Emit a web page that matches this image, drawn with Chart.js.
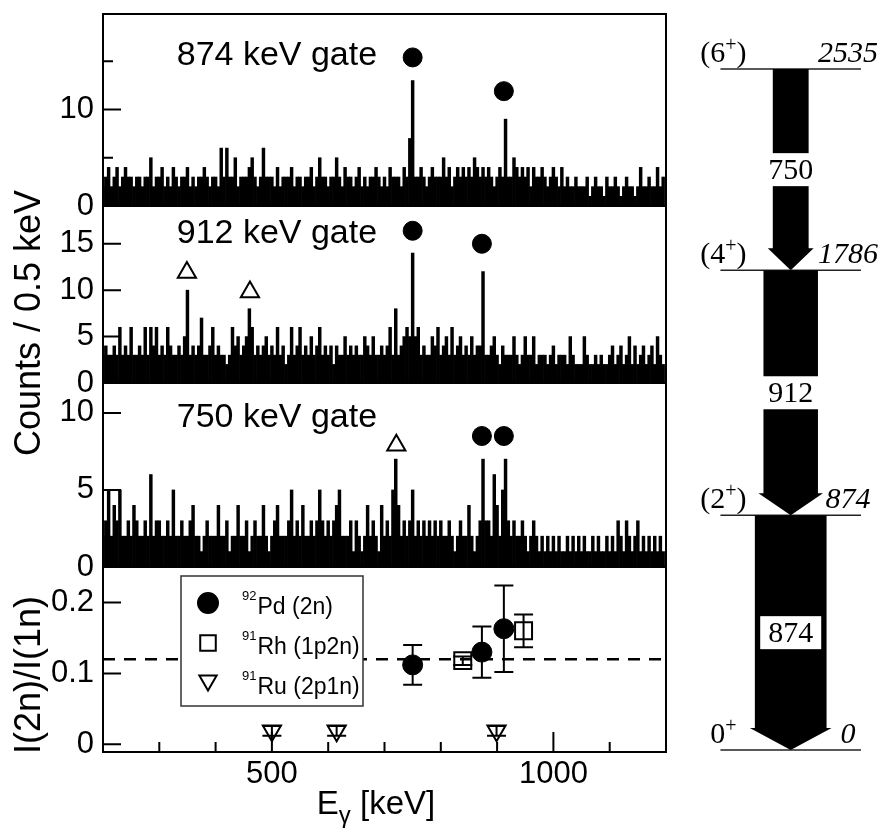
<!DOCTYPE html>
<html>
<head>
<meta charset="utf-8">
<title>92Pd gated spectra</title>
<script src="https://cdn.jsdelivr.net/npm/chart.js@4.4.1/dist/chart.umd.min.js"></script>
<style>
  body { margin: 0; background: #fff; font-family: "Liberation Sans", Arial, sans-serif; }
  #wrap { position: relative; width: 885px; height: 832px; overflow: hidden; }
  #spectra { position: absolute; left: 0; top: 0; }
  #scheme { position: absolute; left: 680px; top: 0; }
  .ytitle { position: absolute; transform: translate(-50%, -50%) rotate(-90deg); font-size: 36px; line-height: 1; white-space: nowrap; color: #000; }
  #xtitle { position: absolute; left: 376px; top: 786px; transform: translateX(-50%); font-size: 33px; line-height: 1; white-space: nowrap; }
  #xtitle sub { font-size: 24px; vertical-align: -9px; }
</style>
</head>
<body>
<div id="wrap">
  <canvas id="spectra" width="680" height="832"></canvas>
  <canvas id="scheme" width="205" height="832"></canvas>
  <div class="ytitle" style="left:28px;top:323px">Counts / 0.5 keV</div>
  <div class="ytitle" style="left:28px;top:675px">I(2n)/I(1n)</div>
  <div id="xtitle">E<sub>γ</sub> [keV]</div>
</div>
<script>
var binStart = 200;
var binWidth = 5;

var gate874 = [
  2,3,4,2,3,4,2,3,4,3,  3,2,3,3,2,3,3,5,2,3,  3,4,2,3,2,4,3,2,3,3,  4,2,3,2,3,3,4,3,2,3,
  3,2,6,3,6,3,3,5,2,3,  3,3,4,5,3,2,3,6,3,3,  3,2,4,2,3,3,3,4,2,3,  3,2,3,3,4,2,3,5,3,3,
  2,3,3,5,3,2,4,3,3,2,  3,4,2,3,2,3,3,4,3,2,  3,2,4,3,3,3,2,4,3,7,  13,3,3,4,3,2,3,4,3,3,
  3,5,3,4,2,3,4,3,4,3,  4,3,5,4,3,4,3,4,3,2,  3,4,3,9,3,3,5,4,3,4,  3,4,2,4,3,3,4,3,2,3,
  4,3,2,4,2,3,2,2,3,2,  2,2,3,1,2,3,2,2,1,3,  2,2,3,2,1,2,3,2,2,1,  2,4,2,2,3,2,2,4,2,3
];
var gate912 = [
  3,4,3,3,4,3,6,3,4,3,  6,3,3,4,3,6,3,6,4,6,  3,4,3,6,4,3,3,4,3,5,  10,3,4,3,4,7,3,3,4,6,
  3,4,3,3,2,3,6,4,5,3,  4,5,8,6,3,4,3,4,5,3,  4,3,6,3,4,2,3,6,3,4,  6,3,4,3,5,3,4,6,3,4,
  3,4,2,4,3,3,5,3,4,3,  4,3,3,5,4,3,5,3,3,4,  3,4,6,3,8,3,4,5,6,5,  14,5,6,3,4,3,3,5,4,6,
  3,4,5,3,6,3,4,5,3,4,  3,5,3,4,4,12,3,3,4,5, 3,2,4,3,3,3,5,3,2,3,  5,3,3,5,2,3,3,3,2,3,
  4,2,3,3,3,2,5,3,2,2,  2,5,3,2,2,3,2,3,2,2,  3,4,2,3,4,2,3,5,2,4,  2,3,4,2,3,4,2,5,3,2
];
var gate750 = [
  2,3,5,2,4,3,5,2,2,3,  2,4,3,2,2,3,2,6,2,3,  3,2,2,3,2,5,2,2,3,2,  2,3,4,2,2,1,2,3,2,2,
  2,4,2,2,3,1,2,2,4,2,  2,3,1,2,3,2,2,4,2,1,  2,3,4,2,2,2,3,5,2,3,  2,4,2,2,3,2,3,5,3,2,
  3,2,3,4,5,2,2,2,3,1,  3,2,1,2,4,2,3,2,1,4,  2,3,2,5,7,4,2,3,2,3,  5,2,3,2,3,2,3,2,3,2,
  3,2,2,3,2,1,2,3,2,2,  4,2,1,2,3,7,3,3,2,6,  4,2,5,7,3,2,3,2,2,3,  2,1,2,3,2,1,2,1,2,1,
  2,1,2,1,1,2,1,2,1,2,  1,2,1,1,2,1,2,1,1,2,  1,2,1,3,2,1,3,2,1,2,  3,1,2,1,2,1,2,1,2,1
];

// peak markers (keV, counts)
var pd874 = [{x: 750, y: 15.4}, {x: 912, y: 11.9}];
var pd912 = [{x: 750, y: 16.4}, {x: 873, y: 15.0}];
var other912 = [{x: 349, y: 11.9}, {x: 461, y: 9.8}];
var pd750 = [{x: 873, y: 8.5}, {x: 912, y: 8.5}];
var other750 = [{x: 721, y: 7.9}];

// I(2n)/I(1n) ratios
var pdE = [750, 873, 912];
var pdRatio = [0.112, 0.130, 0.163];
var pdErr = [0.028, 0.036, 0.061];
var rhE = [839, 947];
var rhRatio = [0.118, 0.160];
var rhErr = [0.006, 0.023];
var ruE = [500, 615, 899];
var ruRatio = [0.019, 0.019, 0.019];
var ruErr = [0.007, 0.007, 0.007];
var meanRatio = 0.12;

// level scheme
var levelE = [0, 874, 1786, 2535];
var levelSpin = ['0+', '(2+)', '(4+)', '(6+)'];
var gammaE = [750, 912, 874];
var gammaFrom = [2535, 1786, 874];
var gammaTo = [1786, 874, 0];
var gammaInt = [50, 76, 100];

// ticks
var xMajor = [500, 1000];
var xMinor = [300, 400, 600, 700, 800, 900, 1100];
var ticks874 = [0, 10];
var minor874 = [5, 15];
var ticks912 = [0, 5, 10, 15];
var ticks750 = [0, 5, 10];
var ticksRatio = [0, 0.1, 0.2];

var SANS = '"Liberation Sans", Arial, sans-serif';
var SERIF = '"Liberation Serif", "DejaVu Serif", serif';
Chart.defaults.font.family = SANS;
Chart.defaults.color = '#000';

function hist(counts, axis) {
  return {
    type: 'bar', yAxisID: axis, order: 10,
    data: counts.map(function (c, i) { return {x: binStart + i * binWidth, y: c}; }),
    backgroundColor: '#000', borderWidth: 0, grouped: false,
    barPercentage: 1, categoryPercentage: 1
  };
}

function marks(pts, axis, style, filled, radius, rotation) {
  return {
    type: 'scatter', yAxisID: axis, order: 1, data: pts,
    pointStyle: style, pointRadius: radius, pointRotation: rotation || 0,
    pointBackgroundColor: filled ? '#000' : 'rgba(0,0,0,0)',
    pointBorderColor: '#000', pointBorderWidth: filled ? 1 : 2
  };
}

function zip(xs, ys) {
  return xs.map(function (x, i) { return {x: x, y: ys[i]}; });
}

var pdSet = marks(zip(pdE, pdRatio), 'yRatio', 'circle', true, 10);
pdSet.errorBars = pdErr; pdSet.mass = '92'; pdSet.label = 'Pd (2n)';
var rhSet = marks(zip(rhE, rhRatio), 'yRatio', 'rect', false, 12);
rhSet.errorBars = rhErr; rhSet.mass = '91'; rhSet.label = 'Rh (1p2n)';
var ruSet = marks(zip(ruE, ruRatio), 'yRatio', 'triangle', false, 10.5, 180);
ruSet.errorBars = ruErr; ruSet.mass = '91'; ruSet.label = 'Ru (2p1n)';

function panelAxis(weight, min, max, ticks) {
  return {
    type: 'linear', position: 'left', stack: 'panels', stackWeight: weight,
    min: min, max: max,
    grid: {display: false, drawTicks: false}, border: {display: false},
    ticks: {font: {size: 31}, color: '#000', padding: 9, autoSkip: false,
            callback: function (v) { return String(v); }},
    afterBuildTicks: function (s) { s.ticks = ticks.map(function (v) { return {value: v}; }); },
    afterFit: function (s) { s.width = 103; s.paddingTop = 0; s.paddingBottom = 0; }
  };
}

var panelAxes = ['y874', 'y912', 'y750', 'yRatio'];
var minorTicks = {y874: minor874, y912: [], y750: [], yRatio: []};
var gateLabels = [
  {axis: 'y874', text: '874 keV gate', x: 331, y: 14.6},
  {axis: 'y912', text: '912 keV gate', x: 331, y: 15.1},
  {axis: 'y750', text: '750 keV gate', x: 331, y: 9.1}
];

function drawSymbol(ctx, style, x, y, r, filled) {
  ctx.beginPath();
  if (style === 'circle') {
    ctx.arc(x, y, r, 0, Math.PI * 2);
  } else if (style === 'rect') {
    var h = r * Math.SQRT1_2;
    ctx.rect(x - h, y - h, 2 * h, 2 * h);
  } else {
    ctx.moveTo(x - r * 0.866, y - r / 2);
    ctx.lineTo(x + r * 0.866, y - r / 2);
    ctx.lineTo(x, y + r);
    ctx.closePath();
  }
  if (filled) { ctx.fillStyle = '#000'; ctx.fill(); }
  ctx.lineWidth = 2;
  ctx.strokeStyle = '#000';
  ctx.stroke();
}

var panelPlugin = {
  id: 'panels',
  afterDatasetsDraw: function (chart) {
    var ctx = chart.ctx, area = chart.chartArea, xs = chart.scales.x;
    ctx.save();

    // error bars
    chart.data.datasets.forEach(function (ds) {
      if (!ds.errorBars) return;
      var ys = chart.scales[ds.yAxisID];
      ctx.strokeStyle = '#000';
      ctx.lineWidth = 2;
      ds.data.forEach(function (p, j) {
        var px = xs.getPixelForValue(p.x);
        var top = ys.getPixelForValue(p.y + ds.errorBars[j]);
        var bot = ys.getPixelForValue(p.y - ds.errorBars[j]);
        ctx.beginPath();
        ctx.moveTo(px, top); ctx.lineTo(px, bot);
        ctx.moveTo(px - 9.5, top); ctx.lineTo(px + 9.5, top);
        ctx.moveTo(px - 9.5, bot); ctx.lineTo(px + 9.5, bot);
        ctx.stroke();
      });
    });

    // frames and inward ticks
    ctx.strokeStyle = '#000';
    ctx.lineWidth = 2;
    panelAxes.forEach(function (id) {
      var s = chart.scales[id];
      ctx.strokeRect(area.left, s.top, area.right - area.left, s.bottom - s.top);
      ctx.beginPath();
      s.ticks.forEach(function (t) {
        var y = s.getPixelForValue(t.value);
        ctx.moveTo(area.left, y); ctx.lineTo(area.left + 18, y);
      });
      minorTicks[id].forEach(function (v) {
        var y = s.getPixelForValue(v);
        ctx.moveTo(area.left, y); ctx.lineTo(area.left + 10, y);
      });
      ctx.stroke();
    });
    ctx.beginPath();
    xMajor.forEach(function (v) {
      var x = xs.getPixelForValue(v);
      ctx.moveTo(x, area.bottom); ctx.lineTo(x, area.bottom - 20);
    });
    xMinor.forEach(function (v) {
      var x = xs.getPixelForValue(v);
      ctx.moveTo(x, area.bottom); ctx.lineTo(x, area.bottom - 10);
    });
    ctx.stroke();

    // gate labels
    ctx.fillStyle = '#000';
    ctx.font = '34px ' + SANS;
    ctx.textAlign = 'left';
    ctx.textBaseline = 'alphabetic';
    gateLabels.forEach(function (g) {
      ctx.fillText(g.text, xs.getPixelForValue(g.x), chart.scales[g.axis].getPixelForValue(g.y));
    });

    // legend box in the ratio panel
    var yR = chart.scales.yRatio;
    var bx = area.left + 78, by = yR.top + 9, bw = 182, bh = 130;
    ctx.fillStyle = '#fff';
    ctx.fillRect(bx, by, bw, bh);
    ctx.lineWidth = 1.5;
    ctx.strokeStyle = '#333';
    ctx.strokeRect(bx, by, bw, bh);
    chart.data.datasets.filter(function (d) { return d.mass; }).forEach(function (d, i) {
      var ry = by + 27 + i * 40;
      var style = d.pointStyle === 'triangle' ? 'down' : d.pointStyle;
      drawSymbol(ctx, style, bx + 27, style === 'down' ? ry - 2.5 : ry,
                 style === 'rect' ? 11 : 10, d.pointBackgroundColor === '#000');
      ctx.fillStyle = '#000';
      ctx.textAlign = 'left';
      ctx.textBaseline = 'alphabetic';
      ctx.font = '13px ' + SANS;
      ctx.fillText(d.mass, bx + 61, ry - 3);
      var w = ctx.measureText(d.mass).width;
      ctx.font = '23px ' + SANS;
      ctx.fillText(d.label, bx + 62 + w, ry + 11);
    });
    ctx.restore();
  }
};

new Chart(document.getElementById('spectra'), {
  type: 'scatter',
  data: {
    datasets: [
      marks(pd874, 'y874', 'circle', true, 9.5),
      marks(pd912, 'y912', 'circle', true, 9.5),
      marks(other912, 'y912', 'triangle', false, 10.5),
      marks(pd750, 'y750', 'circle', true, 9.5),
      marks(other750, 'y750', 'triangle', false, 10.5),
      pdSet, rhSet, ruSet,
      {
        type: 'line', yAxisID: 'yRatio', order: 5,
        data: [{x: 200, y: meanRatio}, {x: 1200, y: meanRatio}],
        borderColor: '#000', borderWidth: 2.5, borderDash: [12, 9], pointRadius: 0
      },
      hist(gate874, 'y874'),
      hist(gate912, 'y912'),
      hist(gate750, 'y750')
    ]
  },
  options: {
    responsive: false,
    animation: false,
    events: [],
    layout: {padding: {top: 10, right: 13, bottom: 0, left: 0}},
    plugins: {legend: {display: false}, tooltip: {enabled: false}},
    scales: {
      x: {
        type: 'linear', min: 200, max: 1200, offset: false,
        grid: {display: false, drawTicks: false}, border: {display: false},
        ticks: {font: {size: 31}, color: '#000', padding: 4, maxRotation: 0, autoSkip: false,
                callback: function (v) { return String(v); }},
        afterBuildTicks: function (s) { s.ticks = xMajor.map(function (v) { return {value: v}; }); },
        afterFit: function (s) { s.height = 80; s.paddingLeft = 0; s.paddingRight = 0; }
      },
      // stacked left axes: the last one listed ends up on top
      yRatio: panelAxis(186, -0.0108, 0.25, ticksRatio),
      y750: panelAxis(185, 0, 11.94, ticks750),
      y912: panelAxis(178, 0, 19.07, ticks912),
      y874: panelAxis(193, 0, 19.9, ticks874)
    }
  },
  plugins: [panelPlugin]
});

// level scheme
function drawSpin(ctx, spin, cx, base) {
  var parts = spin.split('+');
  var big = '30px ' + SERIF, small = '20px ' + SERIF;
  ctx.font = big;
  var w1 = ctx.measureText(parts[0]).width, w3 = ctx.measureText(parts[1]).width;
  ctx.font = small;
  var w2 = ctx.measureText('+').width;
  var x = cx - (w1 + w2 + w3) / 2;
  ctx.textAlign = 'left';
  ctx.textBaseline = 'alphabetic';
  ctx.font = big; ctx.fillText(parts[0], x, base); x += w1;
  ctx.font = small; ctx.fillText('+', x, base - 11); x += w2;
  ctx.font = big; ctx.fillText(parts[1], x, base);
}

var schemePlugin = {
  id: 'scheme',
  afterDatasetsDraw: function (chart) {
    var ctx = chart.ctx, xs = chart.scales.x, ys = chart.scales.y;
    var xc = xs.getPixelForValue(0);
    ctx.save();
    gammaE.forEach(function (e, i) {
      var half = xs.getPixelForValue(gammaInt[i] / 2) - xc;
      var top = ys.getPixelForValue(gammaFrom[i]);
      var tip = ys.getPixelForValue(gammaTo[i]);
      var neck = tip - 22;
      ctx.fillStyle = '#000';
      ctx.beginPath();
      ctx.moveTo(xc - half, top);
      ctx.lineTo(xc + half, top);
      ctx.lineTo(xc + half, neck);
      ctx.lineTo(xc + half + 5, neck);
      ctx.lineTo(xc, tip);
      ctx.lineTo(xc - half - 5, neck);
      ctx.lineTo(xc - half, neck);
      ctx.closePath();
      ctx.fill();

      ctx.font = '30px ' + SERIF;
      var label = String(e);
      var w = ctx.measureText(label).width + 16;
      var mid = (top + tip) / 2;
      ctx.fillStyle = '#fff';
      ctx.fillRect(xc - w / 2, mid - 16.5, w, 33);
      ctx.fillStyle = '#000';
      ctx.textAlign = 'center';
      ctx.textBaseline = 'middle';
      ctx.fillText(label, xc, mid + 1);
    });

    ctx.fillStyle = '#000';
    levelE.forEach(function (e, i) {
      var base = ys.getPixelForValue(e) - 7;
      drawSpin(ctx, levelSpin[i], xs.getPixelForValue(-94), base);
      ctx.font = 'italic 30px ' + SERIF;
      ctx.textAlign = 'center';
      ctx.textBaseline = 'alphabetic';
      ctx.fillText(String(e), xs.getPixelForValue(80), base);
    });
    ctx.restore();
  }
};

new Chart(document.getElementById('scheme'), {
  type: 'scatter',
  data: {
    datasets: levelE.map(function (e) {
      return {
        type: 'line', data: [{x: -98, y: e}, {x: 98, y: e}],
        borderColor: '#222', borderWidth: 1.4, pointRadius: 0
      };
    })
  },
  options: {
    responsive: false,
    animation: false,
    events: [],
    layout: {padding: 0},
    plugins: {legend: {display: false}, tooltip: {enabled: false}},
    scales: {
      x: {type: 'linear', display: false, min: -154.4, max: 131.5},
      y: {type: 'linear', display: false, min: -305, max: 2792}
    }
  },
  plugins: [schemePlugin]
});
</script>
</body>
</html>
